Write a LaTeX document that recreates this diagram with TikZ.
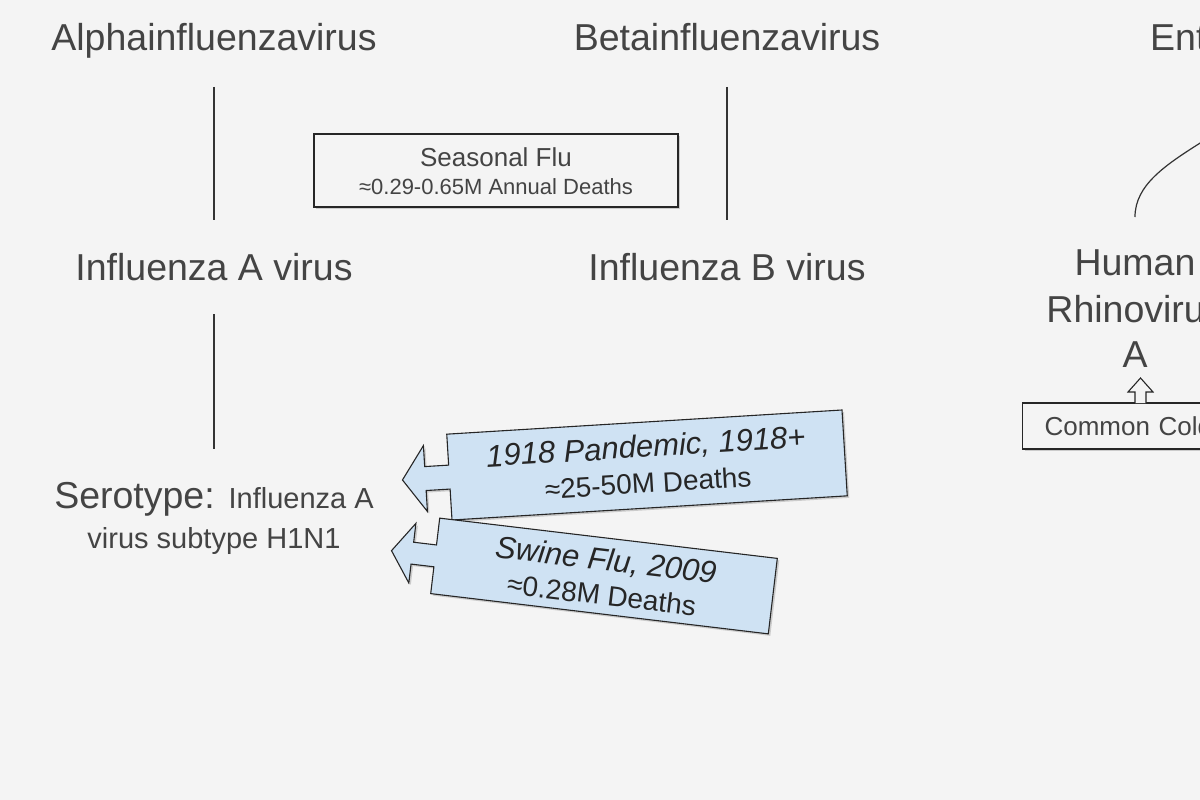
\documentclass[tikz,border=0pt]{standalone}
\usepackage{fontspec}
\setmainfont{Liberation Sans}
\usetikzlibrary{shadows}
\definecolor{bg}{HTML}{F4F4F4}
\definecolor{tx}{HTML}{444444}
\definecolor{cb}{HTML}{CFE2F3}
\begin{document}
\begin{tikzpicture}[x=1pt,y=1pt,
  big/.style={text=tx,font=\fontsize{37.5}{46}\selectfont,align=center,inner sep=0},
  ln/.style={draw=black!80,line width=1.2pt},
  shd/.style={drop shadow={opacity=0.35,shadow xshift=2pt,shadow yshift=-2pt}},
  cbox/.style={draw=black!85,line width=1.1pt,line join=miter,fill=cb,shd}]
\useasboundingbox (0,0) rectangle (1200,-800);
\clip (0,0) rectangle (1200,-800);
\fill[bg] (0,0) rectangle (1200,-800);
\node[big,anchor=base] (alpha) at (214,-51) {Alphainfluenzavirus};
\node[big,anchor=base] (beta) at (727,-51) {Betainfluenzavirus};
\node[big,anchor=base west] (en) at (1150,-51) {Enterovirus};
\node[big] (ia) at (214,-267) {Influenza A virus};
\node[big] (ib) at (727,-267) {Influenza B virus};
\node[big] (hr1) at (1135,-263) {Human};
\node[big] (hr2) at (1135,-309) {Rhinovirus};
\node[big] (hr3) at (1135,-355) {A};
\node[text=tx,inner sep=0] (sero) at (214,-499) {\fontsize{37.5}{45}\selectfont Serotype: \fontsize{29}{45}\selectfont Influenza A};
\node[text=tx,inner sep=0,font=\fontsize{29}{35}\selectfont] (sero2) at (214,-541) {virus subtype H1N1};
\coordinate (a1) at (214,-87); \coordinate (a2) at (214,-220);
\coordinate (b1) at (727,-87); \coordinate (b2) at (727,-220);
\coordinate (c1) at (214,-314); \coordinate (c2) at (214,-449);
\draw[ln] (a1) -- (a2);
\draw[ln] (b1) -- (b2);
\draw[ln] (c1) -- (c2);
\coordinate (h1) at (1135,-217); \coordinate (h2) at (1205,-140);
\draw[ln] (h1) .. controls (1135,-185) and (1165,-165) .. (h2);
% seasonal
\node[draw=black!85,line width=1.1pt,fill=bg,shd,minimum width=364pt,minimum height=73pt,inner sep=0] (sf) at (496,-170.5) {};
\node[text=tx,inner sep=0,font=\fontsize{26}{30}\selectfont] (sf1) at (496,-157) {Seasonal Flu};
\node[text=tx,inner sep=0,font=\fontsize{22}{27}\selectfont] (sf2) at (496,-187) {≈0.29-0.65M Annual Deaths};
% common cold
\node[draw=black!85,line width=1.1pt,fill=bg,shd,minimum height=46pt,text=tx,anchor=west,font=\fontsize{26}{30}\selectfont,inner sep=0,text width=220pt] (cc) at (1022,-426) {\hspace{22pt}Common Cold};
\draw[draw=black!85,line width=1.1pt,fill=bg] (1135,-403) -- (1135,-392) -- (1128,-392) -- (1140.5,-378) -- (1153,-392) -- (1146,-392) -- (1146,-403);
% callout 1
\begin{scope}[shift={(647,-465)},rotate=3.5]
\draw[cbox] (-198,43) -- (198,43) -- (198,-43) -- (-198,-43) -- (-198,-12) -- (-222,-12) -- (-222,-33) -- (-245,0) -- (-222,33) -- (-222,12) -- (-198,12) -- cycle;
\node[text=black!85,inner sep=0,font=\fontsize{31}{36}\selectfont\itshape,rotate=3.5] (p1) at (0,17) {1918 Pandemic, 1918+};
\node[text=black!85,inner sep=0,font=\fontsize{28}{33}\selectfont,rotate=3.5] (p1b) at (0,-18) {≈25-50M Deaths};
\end{scope}
% callout 2
\begin{scope}[shift={(604,-576)},rotate=-6.8]
\draw[cbox] (-170,38) -- (170,38) -- (170,-38) -- (-170,-38) -- (-170,-11) -- (-193,-11) -- (-193,-30) -- (-214,0) -- (-193,30) -- (-193,11) -- (-170,11) -- cycle;
\node[text=black!85,inner sep=0,font=\fontsize{31}{36}\selectfont\itshape,rotate=-6.8] (p2) at (0,15) {Swine Flu, 2009};
\node[text=black!85,inner sep=0,font=\fontsize{28}{33}\selectfont,rotate=-6.8] (p2b) at (0,-19) {≈0.28M Deaths};
\end{scope}
\end{tikzpicture}
\end{document}
